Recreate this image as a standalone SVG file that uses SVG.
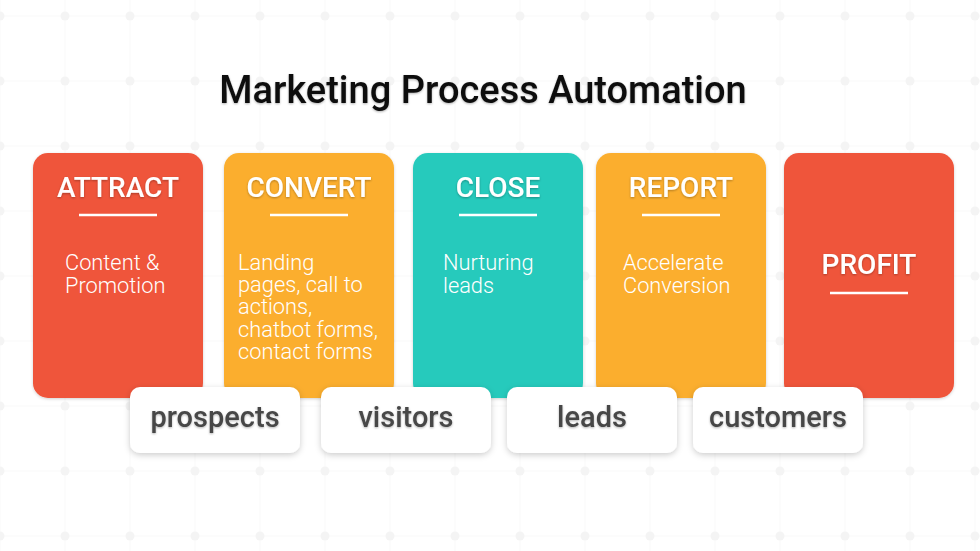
<svg xmlns="http://www.w3.org/2000/svg" width="980" height="551" viewBox="0 0 980 551">
<defs>
  <pattern id="grid" patternUnits="userSpaceOnUse" x="0" y="16" width="65" height="65">
    <rect x="-0.5" y="0" width="1" height="65" fill="#f8f8f8"/>
    <rect x="64.5" y="0" width="1" height="65" fill="#f8f8f8"/>
    <rect x="0" y="-0.5" width="65" height="1" fill="#f8f8f8"/>
    <rect x="0" y="64.5" width="65" height="1" fill="#f8f8f8"/>
    <circle cx="0" cy="0" r="4.5" fill="#f4f4f4"/>
    <circle cx="65" cy="0" r="4.5" fill="#f4f4f4"/>
    <circle cx="0" cy="65" r="4.5" fill="#f4f4f4"/>
    <circle cx="65" cy="65" r="4.5" fill="#f4f4f4"/>
  </pattern>
  <filter id="cardShadow" x="-10%" y="-10%" width="120%" height="120%">
    <feDropShadow dx="0" dy="1" stdDeviation="1.5" flood-color="#000" flood-opacity="0.18"/>
  </filter>
  <filter id="boxShadow" x="-10%" y="-20%" width="120%" height="140%">
    <feDropShadow dx="0" dy="2" stdDeviation="3" flood-color="#000" flood-opacity="0.2"/>
  </filter>
  <filter id="textShadow" x="-5%" y="-20%" width="110%" height="140%">
    <feDropShadow dx="0" dy="1" stdDeviation="1.2" flood-color="#000" flood-opacity="0.3"/>
  </filter>
</defs>
<style>
  .title { font-family: Roboto, "Liberation Sans", sans-serif; font-weight: 500; font-size: 38px; fill: #111111; }
  .head { font-family: Roboto, "Liberation Sans", sans-serif; font-weight: 500; font-size: 28px; fill: #ffffff; text-anchor: middle; }
  .body { font-family: Roboto, "Liberation Sans", sans-serif; font-weight: 300; font-size: 21.8px; fill: #ffffff; }
  .label { font-family: Roboto, "Liberation Sans", sans-serif; font-weight: 500; font-size: 29px; fill: #474747; text-anchor: middle; }
  .rule { stroke: #ffffff; stroke-width: 2.5; }
  .red { fill: #ef553a; }
  .orange { fill: #fbae2e; }
  .teal { fill: #27cabc; }
  .box { fill: #ffffff; }
</style>
<rect x="0" y="0" width="980" height="551" fill="#ffffff"/>
<rect x="0" y="0" width="980" height="551" fill="url(#grid)"/>

<text class="title" x="483" y="103" text-anchor="middle" filter="url(#textShadow)">Marketing Process Automation</text>

<g id="attract">
  <rect class="red" x="33" y="153" width="170" height="245" rx="15" filter="url(#cardShadow)"/>
  <text class="head" x="118" y="197" filter="url(#textShadow)">ATTRACT</text>
  <line class="rule" x1="79" y1="215" x2="157" y2="215"/>
  <text class="body" x="65" y="270">Content &amp;</text>
  <text class="body" x="65" y="293">Promotion</text>
</g>

<g id="convert">
  <rect class="orange" x="224" y="153" width="170" height="245" rx="15" filter="url(#cardShadow)"/>
  <text class="head" x="309" y="197" filter="url(#textShadow)">CONVERT</text>
  <line class="rule" x1="270" y1="215" x2="348" y2="215"/>
  <text class="body" x="238" y="270">Landing</text>
  <text class="body" x="238" y="292">pages, call to</text>
  <text class="body" x="238" y="314">actions,</text>
  <text class="body" x="238" y="337">chatbot forms,</text>
  <text class="body" x="238" y="359">contact forms</text>
</g>

<g id="close">
  <rect class="teal" x="413" y="153" width="170" height="245" rx="15" filter="url(#cardShadow)"/>
  <text class="head" x="498" y="197" filter="url(#textShadow)">CLOSE</text>
  <line class="rule" x1="459" y1="215" x2="537" y2="215"/>
  <text class="body" x="443" y="270">Nurturing</text>
  <text class="body" x="443" y="293">leads</text>
</g>

<g id="report">
  <rect class="orange" x="596" y="153" width="170" height="245" rx="15" filter="url(#cardShadow)"/>
  <text class="head" x="681" y="197" filter="url(#textShadow)">REPORT</text>
  <line class="rule" x1="642" y1="215" x2="720" y2="215"/>
  <text class="body" x="623" y="270">Accelerate</text>
  <text class="body" x="623" y="293">Conversion</text>
</g>

<g id="profit">
  <rect class="red" x="784" y="153" width="170" height="245" rx="15" filter="url(#cardShadow)"/>
  <text class="head" x="869" y="274" filter="url(#textShadow)">PROFIT</text>
  <line class="rule" x1="830" y1="293" x2="908" y2="293"/>
</g>

<g id="prospects">
  <rect class="box" x="130" y="387" width="170" height="66" rx="10" filter="url(#boxShadow)"/>
  <text class="label" x="215" y="427" filter="url(#textShadow)">prospects</text>
</g>
<g id="visitors">
  <rect class="box" x="321" y="387" width="170" height="66" rx="10" filter="url(#boxShadow)"/>
  <text class="label" x="406" y="427" filter="url(#textShadow)">visitors</text>
</g>
<g id="leads">
  <rect class="box" x="507" y="387" width="170" height="66" rx="10" filter="url(#boxShadow)"/>
  <text class="label" x="592" y="427" filter="url(#textShadow)">leads</text>
</g>
<g id="customers">
  <rect class="box" x="693" y="387" width="170" height="66" rx="10" filter="url(#boxShadow)"/>
  <text class="label" x="778" y="427" filter="url(#textShadow)">customers</text>
</g>

<g id="connectors"></g>
</svg>
